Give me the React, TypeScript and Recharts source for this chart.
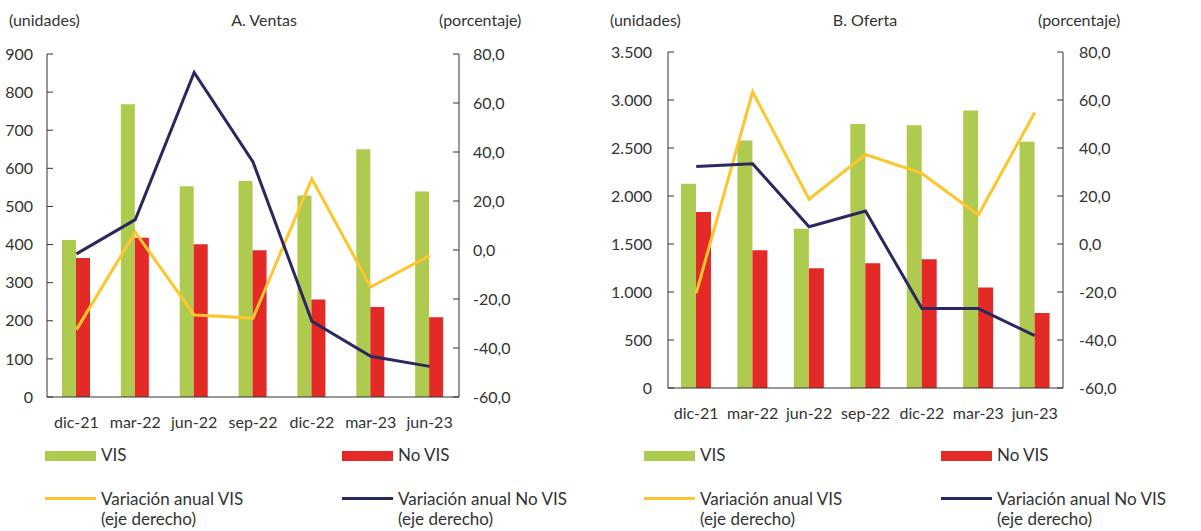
import { ComposedChart, Bar, Line, XAxis, YAxis } from "recharts";

const categories = ["dic-21", "mar-22", "jun-22", "sep-22", "dic-22", "mar-23", "jun-23"];

// A. Ventas
const ventasVis = [412, 768, 553, 567, 529, 650, 539];
const ventasNoVis = [365, 418, 401, 385, 256, 236, 209];
const ventasVarVis = [-32.5, 7.3, -26.5, -27.8, 29.1, -15.1, -2.3];
const ventasVarNoVis = [-1.6, 12.4, 72.5, 35.9, -29.1, -43.4, -47.5];

// B. Oferta
const ofertaVis = [2128, 2578, 1660, 2751, 2737, 2890, 2564];
const ofertaNoVis = [1833, 1435, 1247, 1299, 1341, 1046, 780];
const ofertaVarVis = [-20.5, 63.4, 18.7, 37.3, 29.4, 12.1, 54.8];
const ofertaVarNoVis = [32.3, 33.4, 7.2, 13.7, -26.9, -26.9, -38.2];

const ventasTicks = [0, 100, 200, 300, 400, 500, 600, 700, 800, 900];
const ofertaTicks = [0, 500, 1000, 1500, 2000, 2500, 3000, 3500];
const pctTicks = [-60, -40, -20, 0, 20, 40, 60, 80];
const edgeTicks = [1, 2, 3, 4, 5, 6];

const GREEN = "#AFCB4F";
const RED = "#E42A26";
const YELLOW = "#FDC62E";
const NAVY = "#2A285F";
const TEXT = "#333333";
const FONT = "Lato, 'Open Sans', sans-serif";

const fmtUnits = (v: number) => String(v).replace(/\B(?=(\d{3})+(?!\d))/g, ".");
const fmtPct = (v: number) => v.toFixed(1).replace(".", ",");

const build = (vis: number[], noVis: number[], varVis: number[], varNoVis: number[]) =>
  categories.map((c, i) => ({ cat: c, vis: vis[i], noVis: noVis[i], varVis: varVis[i], varNoVis: varNoVis[i] }));

type PanelProps = {
  left: number;
  title: string;
  titleX: number;
  unitsX: number;
  pctX: number;
  data: ReturnType<typeof build>;
  ticks: number[];
  plotLeft: number;
  plotRight: number;
  plotTop: number;
  plotBottom: number;
  barSize: number;
  gap: number;
};

const W = 600;
const H = 440;

function Panel(p: PanelProps) {
  const tickStyle = { fill: TEXT, fontSize: 16, fontFamily: FONT };
  return (
    <div style={{ position: "absolute", left: p.left, top: 0, width: W, height: H }}>
      <ComposedChart
        width={W}
        height={H}
        data={p.data}
        barGap={0}
        barSize={p.barSize}
        margin={{ top: p.plotTop, left: 0, right: W - p.plotRight - 80, bottom: H - p.plotBottom - 30 }}
      >
        <XAxis
          xAxisId="edge"
          type="number"
          domain={[0, 7]}
          ticks={edgeTicks}
          tick={false}
          axisLine={false}
          tickSize={-6}
          height={0}
          stroke={TEXT}
        />
        <XAxis
          dataKey="cat"
          height={30}
          tickLine={false}
          tickSize={0}
          tickMargin={20}
          interval={0}
          tick={tickStyle}
          stroke={TEXT}
        />
        <YAxis
          yAxisId="left"
          width={p.plotLeft}
          domain={[0, p.ticks[p.ticks.length - 1]]}
          ticks={p.ticks}
          tickFormatter={fmtUnits}
          tickSize={-6}
          tickMargin={6 + p.gap}
          tick={tickStyle}
          stroke={TEXT}
        />
        <YAxis
          yAxisId="right"
          orientation="right"
          width={80}
          domain={[-60, 80]}
          ticks={pctTicks}
          tickFormatter={fmtPct}
          tickSize={-6}
          tickMargin={6 + p.gap}
          tick={tickStyle}
          stroke={TEXT}
        />
        <Bar yAxisId="left" dataKey="vis" fill={GREEN} isAnimationActive={false} />
        <Bar yAxisId="left" dataKey="noVis" fill={RED} isAnimationActive={false} />
        <Line yAxisId="right" dataKey="varVis" stroke={YELLOW} strokeWidth={3} dot={false} isAnimationActive={false} />
        <Line yAxisId="right" dataKey="varNoVis" stroke={NAVY} strokeWidth={3} dot={false} isAnimationActive={false} />
      </ComposedChart>
      <div style={{ ...headStyle, left: p.unitsX }}>(unidades)</div>
      <div style={{ ...headStyle, left: p.titleX, transform: "translateX(-50%)" }}>{p.title}</div>
      <div style={{ ...headStyle, left: p.pctX }}>(porcentaje)</div>
    </div>
  );
}

const headStyle: React.CSSProperties = {
  position: "absolute",
  top: 10,
  fontSize: 16,
  lineHeight: "20px",
  fontFamily: FONT,
  color: TEXT,
  whiteSpace: "nowrap",
};

const legendItems = [
  { name: "VIS", sub: "", color: GREEN, kind: "bar" },
  { name: "No VIS", sub: "", color: RED, kind: "bar" },
  { name: "Variación anual VIS", sub: "(eje derecho)", color: YELLOW, kind: "line" },
  { name: "Variación anual No VIS", sub: "(eje derecho)", color: NAVY, kind: "line" },
];

function LegendBlock({ left }: { left: number }) {
  return (
    <div style={{ position: "absolute", left, top: 0 }}>
      {legendItems.map((it, i) => {
        const col = i % 2;
        const row = Math.floor(i / 2);
        const x = col * 297;
        const y = row === 0 ? 445 : 489;
        return (
          <div key={it.name} style={{ position: "absolute", left: x, top: y, display: "flex", alignItems: "flex-start", whiteSpace: "nowrap" }}>
            <div
              style={{
                width: 51,
                height: it.kind === "bar" ? 10 : 3,
                background: it.color,
                marginTop: it.kind === "bar" ? 6 : 8,
                marginRight: 5,
              }}
            />
            <div style={{ fontFamily: FONT, fontSize: 17, lineHeight: "20px", color: TEXT }}>
              <div>{it.name}</div>
              {it.sub && <div>{it.sub}</div>}
            </div>
          </div>
        );
      })}
    </div>
  );
}

export default function App() {
  const ventas = build(ventasVis, ventasNoVis, ventasVarVis, ventasVarNoVis);
  const oferta = build(ofertaVis, ofertaNoVis, ofertaVarVis, ofertaVarNoVis);
  return (
    <div style={{ position: "absolute", left: 0, top: 0, width: 1201, height: 531, background: "#fff", overflow: "hidden" }}>
      <Panel
        left={0}
        title="A. Ventas"
        titleX={264}
        unitsX={9}
        pctX={439}
        data={ventas}
        ticks={ventasTicks}
        plotLeft={47}
        plotRight={459}
        plotTop={54}
        plotBottom={397}
        barSize={14}
        gap={14}
      />
      <Panel
        left={600}
        title="B. Oferta"
        titleX={265}
        unitsX={10}
        pctX={438}
        data={oferta}
        ticks={ofertaTicks}
        plotLeft={68}
        plotRight={463}
        plotTop={52}
        plotBottom={388}
        barSize={15}
        gap={16}
      />
      <LegendBlock left={45} />
      <LegendBlock left={644} />
    </div>
  );
}
